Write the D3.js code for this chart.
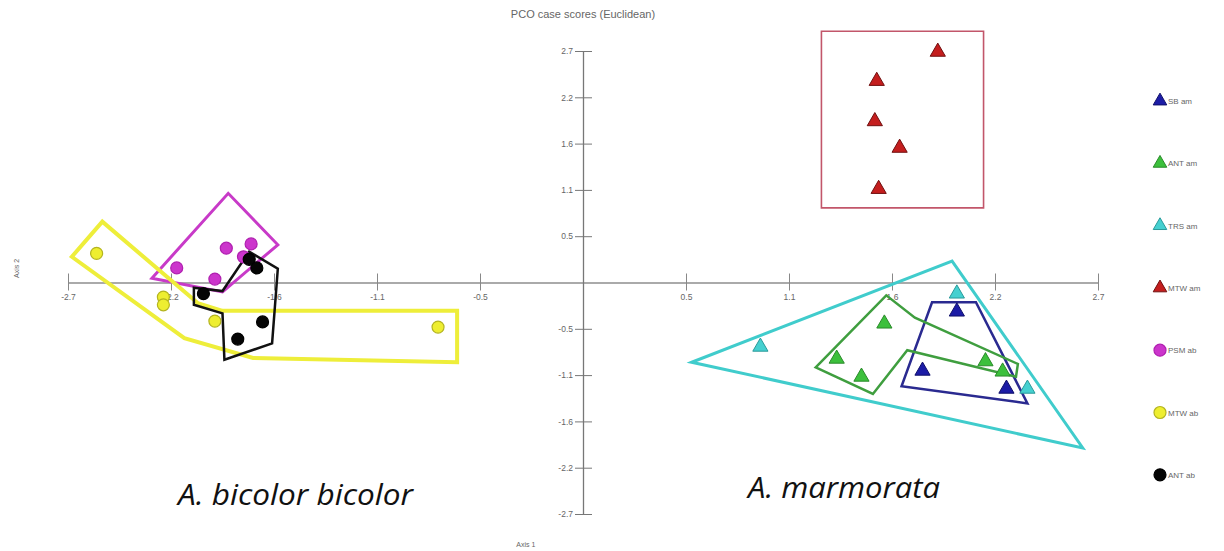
<!DOCTYPE html>
<html>
<head>
<meta charset="utf-8">
<script src="https://cdn.jsdelivr.net/npm/d3@7"></script>
<style>
  body { margin: 0; background: #fff; }
  svg { display: block; }
</style>
</head>
<body>
<div id="chart"></div>
<script>
// tick values are steps of 2.7/5, labels rounded to one decimal like the original
var tickValues = [-2.7, -2.16, -1.62, -1.08, -0.54, 0.54, 1.08, 1.62, 2.16, 2.7];
var tickLabels = ["-2.7", "-2.2", "-1.6", "-1.1", "-0.5", "0.5", "1.1", "1.6", "2.2", "2.7"];

// case scores per group
var sbAmX = [1.96, 1.78, 2.22];
var sbAmY = [-0.34, -1.03, -1.24];
var antAmX = [1.58, 1.33, 1.46, 2.11, 2.20];
var antAmY = [-0.48, -0.89, -1.10, -0.92, -1.04];
var trsAmX = [0.93, 1.96, 2.33];
var trsAmY = [-0.75, -0.13, -1.24];
var mtwAmX = [1.86, 1.54, 1.53, 1.66, 1.55];
var mtwAmY = [2.69, 2.35, 1.88, 1.57, 1.09];
var psmAbX = [-2.13, -1.87, -1.74, -1.93, -1.78];
var psmAbY = [0.17, 0.40, 0.45, 0.04, 0.30];
var mtwAbX = [-2.55, -2.20, -2.20, -1.93, -0.76];
var mtwAbY = [0.34, -0.17, -0.26, -0.45, -0.52];
var antAbX = [-1.75, -1.71, -1.99, -1.68, -1.81];
var antAbY = [0.27, 0.17, -0.13, -0.46, -0.66];

// outlines drawn around the groups (vertices in axis units)
var sbAmHullX = [1.83, 2.06, 2.33, 1.67];
var sbAmHullY = [-0.23, -0.23, -1.41, -1.21];
var antAmHullX = [1.22, 1.59, 1.74, 2.28, 2.27, 1.70, 1.52];
var antAmHullY = [-0.99, -0.15, -0.41, -0.95, -1.10, -0.79, -1.30];
var trsAmHullX = [0.57, 1.935, 2.62];
var trsAmHullY = [-0.93, 0.25, -1.93];
var mtwAmHullX = [1.25, 2.10, 2.10, 1.25];
var mtwAmHullY = [2.93, 2.93, 0.87, 0.87];
var psmAbHullX = [-2.26, -1.86, -1.60, -1.89];
var psmAbHullY = [0.05, 1.04, 0.44, -0.11];
var mtwAbHullX = [-2.68, -2.52, -2.02, -1.89, -0.66, -0.66, -1.73, -2.09];
var mtwAbHullY = [0.30, 0.71, -0.24, -0.33, -0.33, -0.93, -0.88, -0.65];
var antAbHullX = [-2.04, -1.89, -1.75, -1.60, -1.63, -1.88, -1.89, -2.04];
var antAbHullY = [-0.06, -0.10, 0.36, 0.16, -0.71, -0.90, -0.36, -0.26];

var groups = [
  {name: "SB am", x: sbAmX, y: sbAmY, hx: sbAmHullX, hy: sbAmHullY, shape: "tri", fill: "#1c1ca6", stroke: "#10106a", line: "#2a2a90", lw: 2.5},
  {name: "ANT am", x: antAmX, y: antAmY, hx: antAmHullX, hy: antAmHullY, shape: "tri", fill: "#3cc03c", stroke: "#2a8a2a", line: "#3f9e3f", lw: 2.5},
  {name: "TRS am", x: trsAmX, y: trsAmY, hx: trsAmHullX, hy: trsAmHullY, shape: "tri", fill: "#45d0d0", stroke: "#2a9a9a", line: "#40cccc", lw: 3},
  {name: "MTW am", x: mtwAmX, y: mtwAmY, hx: mtwAmHullX, hy: mtwAmHullY, shape: "tri", fill: "#c41e1e", stroke: "#701010", line: "#c2566a", lw: 1.6},
  {name: "PSM ab", x: psmAbX, y: psmAbY, hx: psmAbHullX, hy: psmAbHullY, shape: "circle", fill: "#cc35cc", stroke: "#b020b0", line: "#c83ac8", lw: 3},
  {name: "MTW ab", x: mtwAbX, y: mtwAbY, hx: mtwAbHullX, hy: mtwAbHullY, shape: "circle", fill: "#eeee30", stroke: "#b4b420", line: "#eeee3a", lw: 4},
  {name: "ANT ab", x: antAbX, y: antAbY, hx: antAbHullX, hy: antAbHullY, shape: "circle", fill: "#050505", stroke: "#000", line: "#111", lw: 2.5}
];

var width = 1224;
var height = 551;

var svg = d3.select("#chart")
  .append("svg")
  .attr("width", width)
  .attr("height", height);

var x = d3.scaleLinear()
  .domain([-2.7, 2.7])
  .range([68, 1098]);

var y = d3.scaleLinear()
  .domain([-2.7, 2.7])
  .range([514, 51]);

// title
svg.append("text")
  .attr("x", x(0))
  .attr("y", 18)
  .attr("text-anchor", "middle")
  .attr("font-family", "Liberation Sans, Arial, sans-serif")
  .attr("font-size", 11)
  .attr("fill", "#666")
  .text("PCO case scores (Euclidean)");

// x axis through y = 0
var xAxis = g => g
  .attr("transform", `translate(0, ${y(0)})`)
  .call(d3.axisBottom(x)
    .tickValues(tickValues)
    .tickFormat((d, i) => tickLabels[i])
    .tickSizeOuter(0)
    .tickSizeInner(8))
  .call(g => g.select(".domain").attr("stroke", "#aaa").attr("stroke-width", 2))
  .call(g => g.selectAll(".tick line").attr("y1", -9).attr("y2", 8).attr("stroke", "#888"))
  .call(g => g.selectAll(".tick text")
    .attr("y", 11)
    .attr("fill", "#666")
    .attr("font-size", 8.5)
    .attr("font-family", "Liberation Sans, Arial, sans-serif"));

// y axis through x = 0
var yAxis = g => g
  .attr("transform", `translate(${x(0)}, 0)`)
  .call(d3.axisLeft(y)
    .tickValues(tickValues)
    .tickFormat((d, i) => tickLabels[i])
    .tickSizeOuter(0)
    .tickSizeInner(8))
  .call(g => g.select(".domain").attr("stroke", "#777").attr("stroke-width", 1.3))
  .call(g => g.selectAll(".tick line").attr("x1", -8).attr("x2", 9).attr("stroke", "#777"))
  .call(g => g.selectAll(".tick text")
    .attr("x", -10)
    .attr("fill", "#666")
    .attr("font-size", 8.5)
    .attr("font-family", "Liberation Sans, Arial, sans-serif"));

svg.append("g").call(xAxis);
svg.append("g").call(yAxis);

// axis names
svg.append("text")
  .attr("x", x(-0.3))
  .attr("y", 547)
  .attr("text-anchor", "middle")
  .attr("font-family", "Liberation Sans, Arial, sans-serif")
  .attr("font-size", 7)
  .attr("fill", "#666")
  .text("Axis 1");

svg.append("text")
  .attr("transform", `translate(19, ${y(0) - 14}) rotate(270)`)
  .attr("text-anchor", "middle")
  .attr("font-family", "Liberation Sans, Arial, sans-serif")
  .attr("font-size", 7)
  .attr("fill", "#666")
  .text("Axis 2");

// group outlines
var line = d3.line().curve(d3.curveLinearClosed);

svg.append("g")
  .selectAll("path")
  .data(groups)
  .enter().append("path")
    .attr("d", g => line(g.hx.map((v, i) => [x(v), y(g.hy[i])])))
    .attr("fill", "none")
    .attr("stroke", d => d.line)
    .attr("stroke-width", d => d.lw)
    .attr("stroke-linejoin", "miter");

// points
var tri = d3.symbol().type(d3.symbolTriangle).size(100);
var legendTri = d3.symbol().type(d3.symbolTriangle).size(80);

groups.forEach(function(g) {
  var pts = g.x.map((v, i) => [v, g.y[i]]);
  var sel = svg.append("g").selectAll("path")
    .data(pts)
    .enter();
  if (g.shape === "tri") {
    sel.append("path")
      .attr("d", tri)
      .attr("transform", d => `translate(${x(d[0])}, ${y(d[1])})`)
      .attr("fill", g.fill)
      .attr("stroke", g.stroke)
      .attr("stroke-width", 1);
  } else {
    sel.append("circle")
      .attr("cx", d => x(d[0]))
      .attr("cy", d => y(d[1]))
      .attr("r", 6)
      .attr("fill", g.fill)
      .attr("stroke", g.stroke)
      .attr("stroke-width", 1.2);
  }
});

// legend
var legend = svg.append("g")
  .selectAll("g")
  .data(groups)
  .enter().append("g")
    .attr("transform", (d, i) => `translate(1160, ${101 + i * 62.3})`);

legend.each(function(g) {
  var item = d3.select(this);
  if (g.shape === "tri") {
    item.append("path")
      .attr("d", legendTri)
      .attr("fill", g.fill)
      .attr("stroke", g.stroke)
      .attr("stroke-width", 1);
  } else {
    item.append("circle")
      .attr("r", 6)
      .attr("fill", g.fill)
      .attr("stroke", g.stroke)
      .attr("stroke-width", 1.2);
  }
  item.append("text")
    .attr("x", 8)
    .attr("y", 3)
    .attr("font-family", "Liberation Sans, Arial, sans-serif")
    .attr("font-size", 8)
    .attr("fill", "#666")
    .text(g.name);
});

// species labels
svg.append("text")
  .attr("x", 178)
  .attr("y", 505)
  .attr("font-family", "Open Sans, sans-serif")
  .attr("font-style", "italic")
  .attr("font-size", 29)
  .attr("fill", "#111")
  .attr("textLength", 235)
  .attr("lengthAdjust", "spacingAndGlyphs")
  .text("A. bicolor bicolor");

svg.append("text")
  .attr("x", 748)
  .attr("y", 498)
  .attr("font-family", "Open Sans, sans-serif")
  .attr("font-style", "italic")
  .attr("font-size", 29)
  .attr("fill", "#111")
  .attr("textLength", 192)
  .attr("lengthAdjust", "spacingAndGlyphs")
  .text("A. marmorata");
</script>
</body>
</html>
